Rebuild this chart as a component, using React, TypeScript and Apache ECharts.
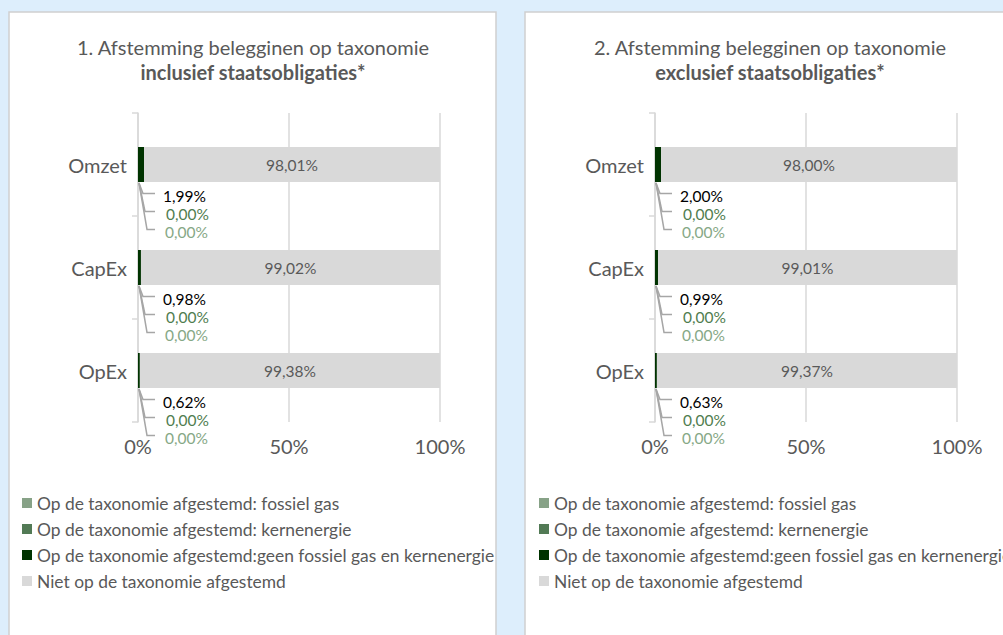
import React, { useEffect, useRef } from "react";
import * as echarts from "echarts";

const categories = ["Omzet", "CapEx", "OpEx"];
const xTicks = [0, 50, 100];

const seriesNames = [
  "Op de taxonomie afgestemd: fossiel gas",
  "Op de taxonomie afgestemd: kernenergie",
  "Op de taxonomie afgestemd:geen fossiel gas en kernenergie",
  "Niet op de taxonomie afgestemd",
];

// Panel 1: inclusief staatsobligaties
const p1Fossiel = [0, 0, 0];
const p1Kern = [0, 0, 0];
const p1Geen = [1.99, 0.98, 0.62];
const p1Niet = [98.01, 99.02, 99.38];

// Panel 2: exclusief staatsobligaties
const p2Fossiel = [0, 0, 0];
const p2Kern = [0, 0, 0];
const p2Geen = [2.0, 0.99, 0.63];
const p2Niet = [98.0, 99.01, 99.37];

const panelTitles = [
  ["1. Afstemming belegginen op taxonomie", "inclusief staatsobligaties*"],
  ["2. Afstemming belegginen op taxonomie", "exclusief staatsobligaties*"],
];

const FONT = "Lato, 'Noto Sans', sans-serif";
const TXT = "#595959";
const COLORS = ["#87a287", "#527a55", "#003300", "#d9d9d9"];
const LABEL_COLORS = ["#000000", "#4f7d4f", "#86a886"];
const BAR_W = 35;

const fmt = (v: number) => v.toFixed(2).replace(".", ",") + "%";

export default function App() {
  const ref = useRef<HTMLDivElement>(null);
  useEffect(() => {
    if (!ref.current) return;
    const chart = echarts.init(ref.current, undefined, { renderer: "svg" });

    const panels = [
      { f: p1Fossiel, k: p1Kern, g: p1Geen, n: p1Niet, left: 138, cx: 253, legendLeft: 22 },
      { f: p2Fossiel, k: p2Kern, g: p2Geen, n: p2Niet, left: 655, cx: 770, legendLeft: 539 },
    ];

    const grid: any[] = [];
    const xAxis: any[] = [];
    const yAxis: any[] = [];
    const series: any[] = [];
    const legend: any[] = [];
    const graphic: any[] = [
      { type: "rect", shape: { x: 9, y: 12, width: 487, height: 640 }, style: { fill: "#ffffff", stroke: "#d0d0d0", lineWidth: 1.5 }, z: -10 },
      { type: "rect", shape: { x: 525, y: 12, width: 490, height: 640 }, style: { fill: "#ffffff", stroke: "#d0d0d0", lineWidth: 1.5 }, z: -10 },
    ];

    panels.forEach((p, i) => {
      graphic.push({
        type: "text",
        x: p.cx,
        y: 47,
        style: { text: panelTitles[i][0], fill: TXT, font: `20px ${FONT}`, align: "center", verticalAlign: "middle" },
      });
      graphic.push({
        type: "text",
        x: p.cx,
        y: 72,
        style: { text: panelTitles[i][1], fill: TXT, font: `bold 20px ${FONT}`, align: "center", verticalAlign: "middle" },
      });

      grid.push({ left: p.left, top: 113, width: 302, height: 309, containLabel: false });
      xAxis.push({
        type: "value",
        gridIndex: i,
        min: xTicks[0],
        max: xTicks[xTicks.length - 1],
        interval: 50,
        axisLine: { show: false },
        axisTick: { show: false },
        splitLine: { show: true, lineStyle: { color: "#d9d9d9", width: 1.5 } },
        axisLabel: { formatter: "{value}%", color: TXT, fontSize: 20, fontFamily: FONT, margin: 14 },
      });
      yAxis.push({
        type: "category",
        gridIndex: i,
        data: categories,
        inverse: true,
        axisLine: { show: true, lineStyle: { color: "#d9d9d9", width: 1.5 } },
        axisTick: { show: true, length: 6, lineStyle: { color: "#d9d9d9", width: 1.5 } },
        axisLabel: { color: TXT, fontSize: 20, fontFamily: FONT, margin: 11 },
      });

      const vals = [p.f, p.k, p.g, p.n];
      vals.forEach((arr, s) => {
        series.push({
          type: "bar",
          name: seriesNames[s],
          xAxisIndex: i,
          yAxisIndex: i,
          stack: "p" + i,
          barWidth: BAR_W,
          data: arr,
          itemStyle: { color: COLORS[s] },
          label:
            s === 3
              ? { show: true, position: "inside", color: TXT, fontSize: 15.5, fontFamily: FONT, formatter: (d: any) => fmt(d.value) }
              : { show: false },
        });
      });

      series.push({
        type: "custom",
        name: "labels" + i,
        xAxisIndex: i,
        yAxisIndex: i,
        clip: false,
        silent: true,
        encode: { x: 0, y: 1 },
        data: categories.map((_, c) => [0, c, p.g[c], p.k[c], p.f[c]]),
        renderItem: (params: any, api: any) => {
          const idx = api.value(1);
          const vs = [api.value(2), api.value(3), api.value(4)];
          const pt = api.coord([0, idx]);
          const x0 = pt[0] + 1;
          const yb = pt[1] + BAR_W / 2 + 1;
          const tickOff = [29, 47, 65];
          const labOff = [31, 49, 67];
          const children: any[] = [];
          vs.forEach((v: number, k: number) => {
            const ty = pt[1] + tickOff[k];
            children.push({
              type: "polyline",
              shape: { points: [[x0, yb], [x0 + 4 + 2 * k, ty], [x0 + 16, ty]] },
              style: { stroke: "#a6a6a6", lineWidth: 1.5, fill: null },
            });
            children.push({
              type: "text",
              style: {
                text: fmt(v),
                x: x0 + 24 + (k === 0 ? 0 : k === 1 ? 3 : 2),
                y: pt[1] + labOff[k],
                fill: LABEL_COLORS[k],
                font: `15.5px ${FONT}`,
                align: "left",
                verticalAlign: "middle",
              },
            });
          });
          return { type: "group", children };
        },
      });

      legend.push({
        orient: "vertical",
        left: p.legendLeft,
        top: 494,
        padding: 0,
        data: seriesNames,
        icon: "rect",
        itemWidth: 10,
        itemHeight: 10,
        itemGap: 8,
        textStyle: { color: TXT, fontSize: 17.4, fontFamily: FONT, lineHeight: 18 },
        selectedMode: false,
      });
    });

    chart.setOption({
      animation: false,
      backgroundColor: "#ddeefc",
      graphic,
      grid,
      xAxis,
      yAxis,
      series,
      legend,
    });
    return () => chart.dispose();
  }, []);

  return (
    <div
      ref={ref}
      style={{ position: "fixed", left: 0, top: 0, width: 1003, height: 635 }}
    />
  );
}
